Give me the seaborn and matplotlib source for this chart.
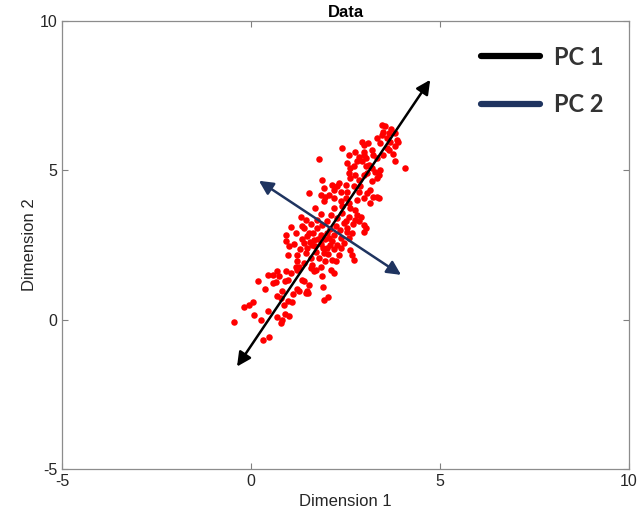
import numpy as np
import pandas as pd
import matplotlib
matplotlib.use("Agg")
import matplotlib.pyplot as plt
import seaborn as sns
from matplotlib.lines import Line2D

# ---- data ----
x_vals = [
    -0.44, -0.18, -0.04, 0.06, 0.09, 0.26, 0.18, 0.38, 0.46, 0.57, 0.70, 0.73, 0.66, 0.57, 0.92, 1.05, 0.97, 0.90,
    0.44, 0.70, 0.79, 0.90, 1.01, 0.33, 0.48, 0.70, 0.79, 0.83, 0.88, 1.10, 1.08, 1.23, 1.26, 1.45, 1.50, 1.40,
    1.53, 1.18, 1.23, 1.58, 1.67, 1.71, 1.89, 1.90, 1.93, 2.04, 0.97, 0.83, 1.36, 1.49, 2.11, 2.19, 2.24, 2.15,
    2.63, 2.72, 2.68,
    0.92, 0.92, 1.01, 0.97, 1.23, 1.23, 1.32, 1.36, 1.40, 1.45, 1.49, 1.53, 1.40, 1.49, 1.45, 1.62, 1.67, 1.58,
    1.71, 1.75, 1.84, 1.89, 1.80, 1.93, 2.02, 1.97, 2.06, 2.15, 2.19, 2.28, 2.37, 2.32, 2.11, 2.19, 2.28, 2.41,
    2.50, 2.54, 2.68, 2.59, 2.63, 2.76, 2.81, 2.98, 3.03, 1.93, 1.97, 2.19, 2.37, 2.50, 2.81, 2.98, 3.16, 3.24,
    2.76, 2.85, 1.62, 1.84, 1.27, 1.40, 2.98, 2.37, 2.45, 2.54,
    1.55, 1.70, 1.85, 1.95, 2.00, 2.10, 2.25, 2.35, 1.65, 1.78, 1.90, 2.05, 2.20, 2.45, 2.60, 1.60, 1.75, 2.00,
    1.85, 2.70, 1.30, 1.15, 1.20, 1.05, 1.35, 2.90, 2.60, 2.40, 1.70, 2.10,
    1.80, 2.41, 2.94, 2.98, 3.33, 3.46, 3.55, 3.60, 3.64, 3.68, 3.82, 3.86, 3.82, 3.46, 4.08, 3.82, 3.20, 3.24,
    3.33, 3.60, 3.64, 2.59, 2.76, 2.85, 2.98, 3.03, 2.54, 2.63, 2.72, 2.81, 2.94, 3.03, 3.11, 3.20, 3.29, 3.38,
    3.42, 2.59, 2.63, 2.76, 2.85, 2.98, 3.07, 3.20, 3.33, 1.89, 1.93, 1.84, 1.53, 2.15, 2.19, 2.28, 2.37, 2.32,
    2.50, 2.54, 2.72, 2.85, 2.89, 3.07, 3.16, 3.33, 3.38, 2.06,
    3.70, 3.50, 3.40, 3.90, 3.10, 3.00, 3.50, 3.75,
]
y_vals = [
    -0.08, 0.42, 0.50, 0.58, 0.17, 0.00, 1.30, 1.04, 1.50, 1.50, 1.62, 1.45, 1.26, 1.23, 1.64, 1.56, 1.34, 1.28,
    0.28, 0.08, -0.11, 0.19, 0.11, -0.67, -0.59, 0.78, 0.73, 0.95, 0.50, 0.86, 0.58, 1.04, 0.95, 0.89, 0.89, 1.28,
    1.17, 1.78, 1.67, 1.73, 1.62, 1.67, 1.45, 1.11, 0.67, 0.75, 0.61, 0.00, 1.34, 0.95, 1.67, 1.56, 1.95, 2.01,
    2.34, 2.01, 2.17,
    2.84, 2.62, 2.45, 2.17, 2.17, 1.95, 3.45, 3.12, 3.07, 3.34, 2.79, 2.90, 2.57, 2.40, 2.23, 2.51, 2.68, 2.06,
    2.28, 3.07, 2.84, 3.18, 2.06, 2.23, 2.40, 1.95, 2.73, 2.62, 2.84, 2.51, 2.40, 2.17, 3.51, 3.74, 3.40, 3.57,
    3.29, 3.07, 2.90, 2.73, 3.74, 3.68, 3.51, 3.18, 3.07, 3.96, 4.12, 4.07, 3.96, 4.07, 4.01, 4.07, 3.90, 4.12,
    3.34, 3.29, 1.84, 1.78, 1.78, 1.90, 2.95, 2.73, 2.56, 2.95,
    2.60, 2.45, 2.55, 2.70, 2.90, 3.05, 3.15, 3.00, 2.90, 2.70, 2.40, 2.20, 2.35, 3.25, 3.45, 3.20, 3.35, 3.30,
    3.55, 3.20, 2.35, 2.55, 2.90, 3.10, 2.70, 3.45, 3.90, 3.80, 3.75, 2.50,
    5.38, 5.74, 5.96, 5.85, 6.08, 6.19, 6.47, 6.08, 6.24, 5.96, 6.24, 6.02, 5.80, 6.52, 5.07, 5.32, 5.69, 5.52,
    5.41, 5.74, 5.69, 5.52, 5.63, 5.46, 5.63, 5.41, 5.24, 5.07, 5.13, 5.30, 5.30, 5.13, 5.18, 5.07, 4.96, 4.85,
    5.02, 4.91, 4.74, 4.85, 4.68, 4.85, 4.91, 4.63, 4.74, 4.68, 4.40, 4.18, 4.24, 4.52, 4.35, 4.46, 4.29, 4.57,
    4.52, 4.29, 4.46, 4.29, 4.46, 4.24, 4.35, 4.12, 4.07, 4.18,
    6.40, 6.30, 5.90, 5.95, 5.90, 5.50, 5.50, 5.55,
]

pc1_start = (-0.37, -1.57)
pc1_end = (4.74, 8.03)
pc2_start = (0.21, 4.65)
pc2_end = (3.97, 1.50)

pc_labels = ["PC 1", "PC 2"]
pc_colors = ["#000000", "#1f3460"]

x_ticks = [-5, 0, 5, 10]
y_ticks = [-5, 0, 5, 10]

df = pd.DataFrame({"Dimension 1": x_vals, "Dimension 2": y_vals})

sns.set_style("white")
plt.rcParams["font.family"] = ["Liberation Sans", "DejaVu Sans"]
plt.rcParams["axes.unicode_minus"] = False

fig = plt.figure(figsize=(6.38, 5.26), dpi=100)
ax = fig.add_axes([62 / 638, 57 / 526, (629 - 62) / 638, (469 - 21) / 526])

sns.scatterplot(data=df, x="Dimension 1", y="Dimension 2", ax=ax, color="#ff0000",
                s=22, linewidth=0, zorder=2, legend=False)

for (s, e), c in zip([(pc1_start, pc1_end), (pc2_start, pc2_end)], pc_colors):
    ax.annotate("", xy=e, xytext=s,
                arrowprops=dict(arrowstyle="<|-|>,head_length=0.6,head_width=0.3",
                                color=c, lw=1.8, shrinkA=0, shrinkB=0,
                                mutation_scale=14),
                zorder=3)

ax.set_xlim(-5, 10)
ax.set_ylim(-5, 10)
ax.set_xticks(x_ticks)
ax.set_yticks(y_ticks)
ax.tick_params(direction="in", length=4, width=0.8, colors="#808080",
               labelcolor="#262626", labelsize=11.5, top=True, right=True,
               bottom=True, left=True)
for sp in ax.spines.values():
    sp.set_color("#8c8c8c")
    sp.set_linewidth(0.9)

ax.set_xlabel("Dimension 1", fontsize=12, color="#262626", labelpad=4)
ax.set_ylabel("Dimension 2", fontsize=12, color="#262626", labelpad=2)
ax.set_title("Data", fontsize=12, fontweight="bold", color="#000000", pad=3)

handles = [Line2D([0], [0], color=c, lw=4.5, solid_capstyle="round") for c in pc_colors]
leg = ax.legend(handles, pc_labels, loc="upper right", frameon=False,
                handlelength=2.5, handletextpad=0.6, labelspacing=1.05,
                borderaxespad=0.3, bbox_to_anchor=(0.985, 0.982),
                prop={"family": ["Lato", "DejaVu Sans"], "weight": "bold", "size": 17})
for t in leg.get_texts():
    t.set_color("#333333")

fig.savefig("out.png", dpi=100)
